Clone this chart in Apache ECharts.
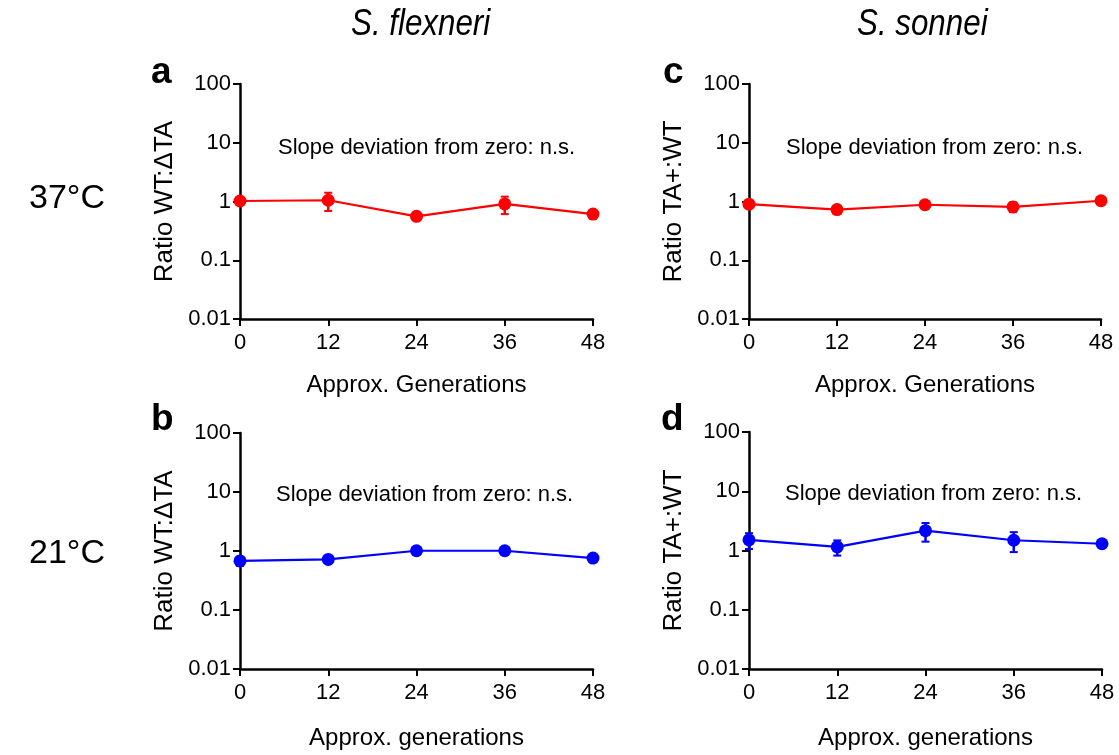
<!DOCTYPE html>
<html><head><meta charset="utf-8">
<script src="https://cdn.jsdelivr.net/npm/echarts@6/dist/echarts.min.js"></script>
<style>html,body{margin:0;padding:0;background:#fff}#c{width:1119px;height:755px}</style>
</head><body><div id="c"></div>
<script>
const generations = [0, 12, 24, 36, 48];
const yTickLabels = ['0.01', '0.1', '1', '10', '100'];
// panel a: S. flexneri 37°C (Ratio WT:ΔTA)
const aMean = [1.02, 1.05, 0.56, 0.91, 0.61];
const aErr  = [0.05, 0.36, 0.05, 0.30, 0.10];
// panel b: S. flexneri 21°C
const bMean = [0.68, 0.72, 1.01, 1.01, 0.76];
const bErr  = [0.12, 0.06, 0.06, 0.12, 0.06];
// panel c: S. sonnei 37°C (Ratio TA+:WT)
const cMean = [0.90, 0.73, 0.88, 0.81, 1.03];
const cErr  = [0.05, 0.06, 0.06, 0.15, 0.05];
// panel d: S. sonnei 21°C
const dMean = [1.51, 1.15, 2.16, 1.49, 1.30];
const dErr  = [0.45, 0.33, 0.75, 0.55, 0.08];

const panels = [
  {mean: aMean, err: aErr, color: '#ff0000', yName: 'Ratio WT:\u0394TA', xName: 'Approx. Generations', grid: {left: 240, top: 84, width: 353, height: 235}, xGap: 54},
  {mean: bMean, err: bErr, color: '#0000ff', yName: 'Ratio WT:\u0394TA', xName: 'Approx. generations', grid: {left: 240, top: 433, width: 353, height: 236}, xGap: 57},
  {mean: cMean, err: cErr, color: '#ff0000', yName: 'Ratio TA+:WT', xName: 'Approx. Generations', grid: {left: 749, top: 84, width: 352, height: 235}, xGap: 54},
  {mean: dMean, err: dErr, color: '#0000ff', yName: 'Ratio TA+:WT', xName: 'Approx. generations', grid: {left: 749, top: 432, width: 353, height: 237}, xGap: 57}
];

const FONT = 'Arial, "Liberation Sans", sans-serif';
const grids = [], xAxes = [], yAxes = [], series = [];
panels.forEach((p, i) => {
  grids.push(Object.assign({containLabel: false}, p.grid));
  xAxes.push({
    type: 'value', gridIndex: i, min: 0, max: 48, interval: 12,
    name: p.xName, nameLocation: 'middle', nameGap: p.xGap,
    nameTextStyle: {fontSize: 24, color: '#000', fontFamily: FONT},
    axisLine: {lineStyle: {color: '#000', width: 2.5}},
    axisTick: {show: true, length: 7, lineStyle: {color: '#000', width: 2}},
    axisLabel: {fontSize: 22, color: '#000', margin: 13, fontFamily: FONT},
    splitLine: {show: false}
  });
  yAxes.push({
    type: 'log', logBase: 10, gridIndex: i, min: 0.01, max: 100,
    name: p.yName, nameLocation: 'middle', nameGap: 62, nameRotate: 90,
    nameTextStyle: {fontSize: 26, color: '#000', fontFamily: FONT},
    axisLine: {show: true, lineStyle: {color: '#000', width: 2.5}},
    axisTick: {show: true, length: 7, lineStyle: {color: '#000', width: 2}},
    axisLabel: {fontSize: 22, color: '#000', margin: 9, fontFamily: FONT,
      formatter: v => { const k = Math.round(Math.log10(v)) + 2; return yTickLabels[k] !== undefined ? yTickLabels[k] : ''; }},
    splitLine: {show: false}
  });
  series.push({
    type: 'custom', xAxisIndex: i, yAxisIndex: i, z: 3,
    data: generations.map((g, k) => [g, p.mean[k] - p.err[k], p.mean[k] + p.err[k]]),
    encode: {x: 0, y: [1, 2]},
    renderItem: (params, api) => {
      const lo = api.coord([api.value(0), api.value(1)]);
      const hi = api.coord([api.value(0), api.value(2)]);
      const cw = 4;
      return {type: 'group', children: [
        {type: 'line', shape: {x1: lo[0], y1: lo[1], x2: hi[0], y2: hi[1]}, style: {stroke: p.color, lineWidth: 2.5}},
        {type: 'line', shape: {x1: lo[0]-cw, y1: lo[1], x2: lo[0]+cw, y2: lo[1]}, style: {stroke: p.color, lineWidth: 2}},
        {type: 'line', shape: {x1: hi[0]-cw, y1: hi[1], x2: hi[0]+cw, y2: hi[1]}, style: {stroke: p.color, lineWidth: 2}}
      ]};
    }
  });
  series.push({
    type: 'line', xAxisIndex: i, yAxisIndex: i, z: 4,
    data: generations.map((g, k) => [g, p.mean[k]]),
    symbol: 'circle', symbolSize: 13, showSymbol: true,
    lineStyle: {color: p.color, width: 2.2},
    itemStyle: {color: p.color},
    animation: false
  });
});

const annot = 'Slope deviation from zero: n.s.';
const AF = '22px Arial, "Liberation Sans", sans-serif';
const LF = 'bold 37px Arial, "Liberation Sans", sans-serif';
const TF = 'italic 36px Arial, "Liberation Sans", sans-serif';
const graphic = [
  {type: 'text', x: 351, y: 7, scaleX: 0.87, style: {text: 'S. flexneri', font: TF, fill: '#000'}},
  {type: 'text', x: 857, y: 7, scaleX: 0.87, style: {text: 'S. sonnei', font: TF, fill: '#000'}},
  {type: 'text', left: 29, top: 182, style: {text: '37\u00B0C', font: '34px Arial, "Liberation Sans", sans-serif', fill: '#000'}},
  {type: 'text', left: 29, top: 537, style: {text: '21\u00B0C', font: '34px Arial, "Liberation Sans", sans-serif', fill: '#000'}},
  {type: 'text', left: 151, top: 54, style: {text: 'a', font: LF, fill: '#000'}},
  {type: 'text', left: 151, top: 401, style: {text: 'b', font: LF, fill: '#000'}},
  {type: 'text', left: 663, top: 54, style: {text: 'c', font: LF, fill: '#000'}},
  {type: 'text', left: 661, top: 401, style: {text: 'd', font: LF, fill: '#000'}},
  {type: 'text', left: 278, top: 137, style: {text: annot, font: AF, fill: '#000'}},
  {type: 'text', left: 786, top: 137, style: {text: annot, font: AF, fill: '#000'}},
  {type: 'text', left: 276, top: 484, style: {text: annot, font: AF, fill: '#000'}},
  {type: 'text', left: 785, top: 483, style: {text: annot, font: AF, fill: '#000'}}
];

const chart = echarts.init(document.getElementById('c'), null, {renderer: 'canvas'});
chart.setOption({
  animation: false,
  backgroundColor: '#fff',
  grid: grids, xAxis: xAxes, yAxis: yAxes, series: series, graphic: graphic
});
</script></body></html>
